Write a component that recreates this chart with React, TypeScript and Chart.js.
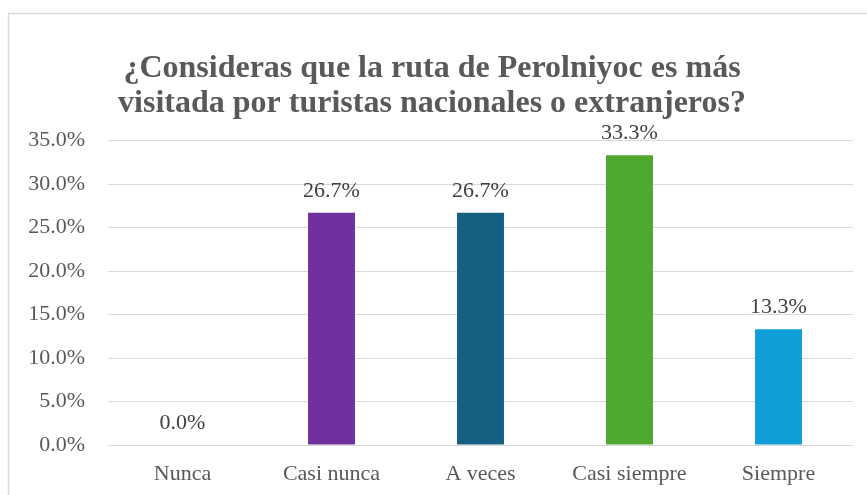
import React, { useEffect, useRef } from "react";
import { Chart, registerables } from "chart.js";

Chart.register(...registerables);

const categories = ["Nunca", "Casi nunca", "A veces", "Casi siempre", "Siempre"];
const values = [0, 26.7, 26.7, 33.3, 13.3];
const barColors = ["#7030A0", "#7030A0", "#156082", "#4EA72E", "#0F9ED5"];
const titleLines = [
  "¿Consideras que la ruta de Perolniyoc es más",
  "visitada por turistas nacionales o extranjeros?",
];
const yMin = 0;
const yMax = 35;
const yStep = 5;

const SERIF = "'Liberation Serif', 'Times New Roman', serif";

const framePlugin = {
  id: "frame",
  beforeDraw(chart: any) {
    const ctx = chart.ctx;
    ctx.save();
    ctx.fillStyle = "#ffffff";
    ctx.fillRect(0, 0, chart.width, chart.height);
    ctx.strokeStyle = "#d9d9d9";
    ctx.lineWidth = 1.5;
    ctx.strokeRect(8.5, 13.5, chart.width + 20, chart.height + 20);
    ctx.restore();
  },
};

const labelPlugin = {
  id: "valueLabels",
  afterDatasetsDraw(chart: any) {
    const ctx = chart.ctx;
    const meta = chart.getDatasetMeta(0);
    const data = chart.data.datasets[0].data as number[];
    ctx.save();
    ctx.font = `22px ${SERIF}`;
    ctx.fillStyle = "#404040";
    ctx.textAlign = "center";
    ctx.textBaseline = "alphabetic";
    meta.data.forEach((el: any, i: number) => {
      ctx.fillText(data[i].toFixed(1) + "%", el.x, el.y - 16);
    });
    ctx.restore();
  },
};

export default function App() {
  const ref = useRef<HTMLCanvasElement | null>(null);
  useEffect(() => {
    document.body.style.margin = "0";
    if (!ref.current) return;
    const chart = new Chart(ref.current, {
      type: "bar",
      data: {
        labels: categories,
        datasets: [
          {
            data: values,
            backgroundColor: barColors,
            barPercentage: 0.315,
            categoryPercentage: 1,
          },
        ],
      },
      options: {
        animation: false,
        responsive: false,
        devicePixelRatio: 1,
        layout: { padding: { left: 11, right: 14, top: 0, bottom: 0 } },
        plugins: {
          legend: { display: false },
          tooltip: { enabled: false },
          title: {
            display: true,
            text: titleLines,
            color: "#595959",
            font: { family: SERIF, size: 32, weight: "bold", lineHeight: 35 / 32 },
            padding: { top: 51.5, bottom: 19 },
          },
        },
        scales: {
          x: {
            grid: { display: false, drawTicks: false },
            border: { display: false },
            ticks: {
              color: "#595959",
              font: { family: SERIF, size: 22 },
              padding: 16,
              maxRotation: 0,
            },
            afterFit(scale: any) {
              scale.height = 50;
            },
          },
          y: {
            min: yMin,
            max: yMax,
            grid: { color: "#d9d9d9", lineWidth: 1, drawTicks: false },
            border: { display: false },
            ticks: {
              stepSize: yStep,
              color: "#595959",
              font: { family: SERIF, size: 22 },
              padding: 23,
              callback: (v: any) => Number(v).toFixed(1) + "%",
            },
            afterFit(scale: any) {
              scale.width = 97;
            },
          },
        },
      },
      plugins: [framePlugin, labelPlugin],
    });
    return () => chart.destroy();
  }, []);
  return (
    <canvas
      ref={ref}
      width={867}
      height={495}
      style={{ position: "fixed", left: 0, top: 0, width: 867, height: 495 }}
    />
  );
}
